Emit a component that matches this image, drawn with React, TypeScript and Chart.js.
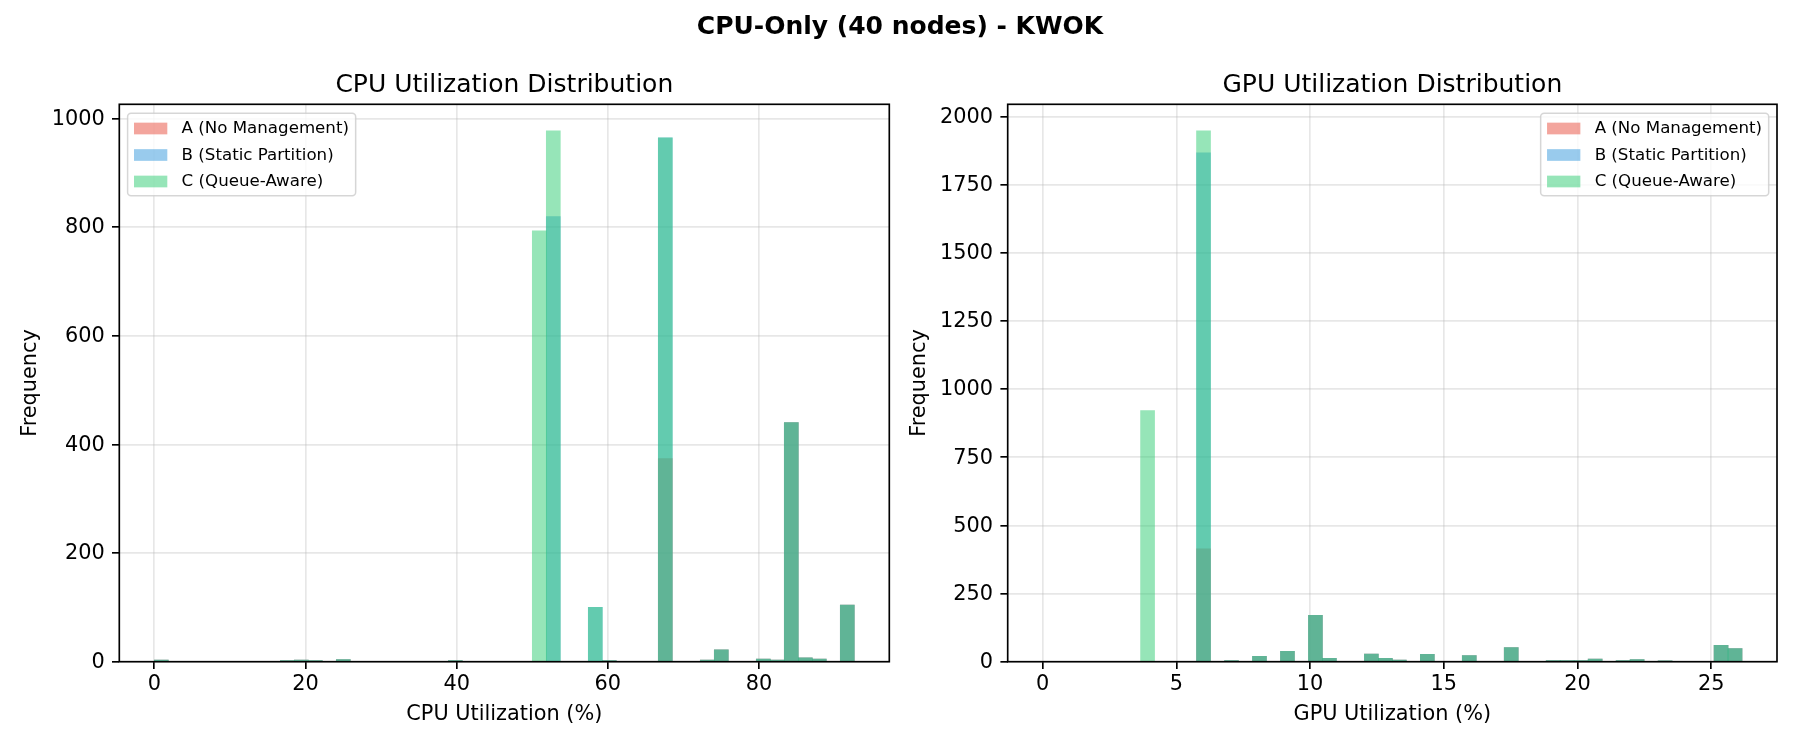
import React, { useEffect, useRef } from 'react';
import { Chart, registerables } from 'chart.js';

Chart.register(...registerables);

const FONT = "'DejaVu Sans', 'Liberation Sans', sans-serif";

// ---------- text ----------
const FIGURE_TITLE = 'CPU-Only (40 nodes) - KWOK';
const SERIES_LABELS = ['A (No Management)', 'B (Static Partition)', 'C (Queue-Aware)'];
const SERIES_COLORS = ['rgba(231, 76, 60, 0.5)', 'rgba(52, 152, 219, 0.5)', 'rgba(46, 204, 113, 0.5)'];
const Y_LABEL = 'Frequency';

// ---------- CPU panel (50 bins over CPU_BIN_RANGE) ----------
const CPU_TITLE = 'CPU Utilization Distribution';
const CPU_XLABEL = 'CPU Utilization (%)';
const CPU_BIN_RANGE = [0, 92.6];
const CPU_A = [
  3, 0, 0, 0, 0, 0, 0, 0, 0, 2,
  3, 2, 0, 4, 0, 0, 0, 0, 0, 0,
  0, 2, 0, 0, 0, 0, 0, 0, 0, 0,
  0, 0, 2, 0, 0, 0, 374, 0, 0, 3,
  22, 0, 0, 5, 3, 440, 7, 5, 0, 104,
];
const CPU_B = [
  3, 0, 0, 0, 0, 0, 0, 0, 0, 2,
  3, 2, 0, 4, 0, 0, 0, 0, 0, 0,
  0, 2, 0, 0, 0, 0, 0, 0, 819, 0,
  0, 100, 2, 0, 0, 0, 964, 0, 0, 3,
  22, 0, 0, 5, 3, 440, 7, 5, 0, 104,
];
const CPU_C = [
  3, 0, 0, 0, 0, 0, 0, 0, 0, 2,
  3, 2, 0, 4, 0, 0, 0, 0, 0, 0,
  0, 2, 0, 0, 0, 0, 0, 793, 977, 0,
  0, 100, 2, 0, 0, 0, 964, 0, 0, 3,
  22, 0, 0, 5, 3, 440, 7, 5, 0, 104,
];
const CPU_X_TICKS = [0, 20, 40, 60, 80];
const CPU_Y_TICKS = [0, 200, 400, 600, 800, 1000];

// ---------- GPU panel (50 bins over GPU_BIN_RANGE) ----------
const GPU_TITLE = 'GPU Utilization Distribution';
const GPU_XLABEL = 'GPU Utilization (%)';
const GPU_BIN_RANGE = [0, 26.15];
const GPU_A = [
  0, 0, 0, 0, 0, 0, 0, 0, 0, 0,
  0, 414, 0, 4, 0, 20, 0, 38, 0, 170,
  12, 0, 0, 28, 12, 6, 0, 27, 0, 0,
  22, 0, 0, 52, 0, 0, 4, 4, 4, 10,
  0, 4, 8, 0, 3, 0, 0, 0, 60, 48,
];
const GPU_B = [
  0, 0, 0, 0, 0, 0, 0, 0, 0, 0,
  0, 1866, 0, 4, 0, 20, 0, 38, 0, 170,
  12, 0, 0, 28, 12, 6, 0, 27, 0, 0,
  22, 0, 0, 52, 0, 0, 4, 4, 4, 10,
  0, 4, 8, 0, 3, 0, 0, 0, 60, 48,
];
const GPU_C = [
  0, 0, 0, 0, 0, 0, 0, 921, 0, 0,
  0, 1947, 0, 4, 0, 20, 0, 38, 0, 170,
  12, 0, 0, 28, 12, 6, 0, 27, 0, 0,
  22, 0, 0, 52, 0, 0, 4, 4, 4, 10,
  0, 4, 8, 0, 3, 0, 0, 0, 60, 48,
];
const GPU_X_TICKS = [0, 5, 10, 15, 20, 25];
const GPU_Y_TICKS = [0, 250, 500, 750, 1000, 1250, 1500, 1750, 2000];

type PanelSpec = {
  title: string;
  xLabel: string;
  binRange: number[];
  series: number[][];
  xTicks: number[];
  yTicks: number[];
  padLeft: number;
  padRight: number;
  yAxisWidth: number;
  yTitlePad: number;
  legendCorner: 'left' | 'right';
  suptitle: string | null;
};

const decorPlugin = {
  id: 'figDecor',
  afterDraw(chart: any, _args: any, opts: any) {
    const { ctx, chartArea: a } = chart;
    ctx.save();
    // spines
    ctx.strokeStyle = '#000';
    ctx.lineWidth = 1.67;
    ctx.strokeRect(a.left, a.top, a.right - a.left, a.bottom - a.top);
    // subplot title
    ctx.fillStyle = '#000';
    ctx.textAlign = 'center';
    ctx.textBaseline = 'alphabetic';
    ctx.font = `25px ${FONT}`;
    ctx.fillText(opts.title, (a.left + a.right) / 2, a.top - 12.3);
    if (opts.suptitle) {
      ctx.font = `bold 25px ${FONT}`;
      ctx.fillText(opts.suptitle, chart.width / 2, 34);
    }
    // legend
    ctx.font = `16.67px ${FONT}`;
    const textW = Math.max(...SERIES_LABELS.map((s) => ctx.measureText(s).width));
    const boxW = 54 + textW + 6.7;
    const boxH = 82.5;
    const bx = opts.legendCorner === 'left' ? a.left + 8.3 : a.right - 8.3 - boxW;
    const by = a.top + 9;
    ctx.beginPath();
    if (ctx.roundRect) ctx.roundRect(bx, by, boxW, boxH, 3.5);
    else ctx.rect(bx, by, boxW, boxH);
    ctx.fillStyle = 'rgba(255,255,255,0.8)';
    ctx.fill();
    ctx.strokeStyle = 'rgba(204,204,204,0.8)';
    ctx.lineWidth = 1.5;
    ctx.stroke();
    ctx.textAlign = 'left';
    ctx.textBaseline = 'middle';
    SERIES_LABELS.forEach((label, i) => {
      const cy = by + 15.2 + i * 26.5;
      ctx.fillStyle = SERIES_COLORS[i];
      ctx.fillRect(bx + 6.4, cy - 5.85, 33.3, 11.7);
      ctx.fillStyle = '#000';
      ctx.fillText(label, bx + 54, cy + 0.5);
    });
    ctx.restore();
  },
};

function buildChart(canvas: HTMLCanvasElement, spec: PanelSpec) {
  const [lo, hi] = spec.binRange;
  const n = spec.series[0].length;
  const w = (hi - lo) / n;
  const centers = spec.series[0].map((_, i) => lo + (i + 0.5) * w);
  const span = hi - lo;
  const yMax = Math.max(...spec.series.flat()) * 1.05;

  const datasets = spec.series.map((vals, k) => ({
    label: SERIES_LABELS[k],
    data: vals.map((v, i) => ({ x: centers[i], y: v })),
    backgroundColor: SERIES_COLORS[k],
    borderWidth: 0,
    barPercentage: 1,
    categoryPercentage: 1,
    grouped: false,
    order: spec.series.length - k,
  }));

  const tickFont = { family: FONT, size: 20.83 };
  const gridCommon = {
    color: 'rgba(176,176,176,0.3)',
    lineWidth: 1.67,
    drawTicks: true,
    tickLength: 7.3,
    tickWidth: 1.67,
    tickColor: '#000',
  };

  return new Chart(canvas, {
    type: 'bar',
    data: { datasets } as any,
    options: {
      responsive: false,
      maintainAspectRatio: false,
      animation: false,
      events: [],
      layout: { padding: { left: spec.padLeft, right: spec.padRight, top: 104.3, bottom: 0 } },
      plugins: {
        legend: { display: false },
        title: { display: false },
        tooltip: { enabled: false },
        figDecor: { title: spec.title, legendCorner: spec.legendCorner, suptitle: spec.suptitle },
      } as any,
      scales: {
        x: {
          type: 'linear',
          min: lo - 0.05 * span,
          max: hi + 0.05 * span,
          bounds: 'data',
          offset: false,
          z: 1,
          grid: { ...gridCommon, offset: false },
          border: { display: false },
          ticks: {
            color: '#000',
            font: tickFont,
            padding: 3,
            maxRotation: 0,
            autoSkip: false,
            callback: (v: any) => String(v),
          },
          afterBuildTicks: (s: any) => {
            s.ticks = spec.xTicks.map((v) => ({ value: v }));
          },
          afterFit: (s: any) => {
            s.height = 88.3;
          },
          title: {
            display: true,
            text: spec.xLabel,
            color: '#000',
            font: tickFont,
            padding: { top: 23.2, bottom: 23.2 },
          },
        },
        y: {
          type: 'linear',
          min: 0,
          max: yMax,
          bounds: 'data',
          z: 1,
          grid: gridCommon,
          border: { display: false },
          ticks: {
            color: '#000',
            font: tickFont,
            padding: 7.3,
            labelOffset: 1,
            autoSkip: false,
            callback: (v: any) => String(v),
          },
          afterBuildTicks: (s: any) => {
            s.ticks = spec.yTicks.map((v) => ({ value: v }));
          },
          afterFit: (s: any) => {
            s.width = spec.yAxisWidth;
          },
          title: {
            display: true,
            text: Y_LABEL,
            color: '#000',
            font: tickFont,
            padding: { top: spec.yTitlePad, bottom: spec.yTitlePad },
          },
        },
      } as any,
    },
    plugins: [decorPlugin as any],
  });
}

const LEFT_SPEC: PanelSpec = {
  title: CPU_TITLE,
  xLabel: CPU_XLABEL,
  binRange: CPU_BIN_RANGE,
  series: [CPU_A, CPU_B, CPU_C],
  xTicks: CPU_X_TICKS,
  yTicks: CPU_Y_TICKS,
  padLeft: 0,
  padRight: 1800 - 889.3,
  yAxisWidth: 119.3,
  yTitlePad: 18.5,
  legendCorner: 'left',
  suptitle: FIGURE_TITLE,
};

const RIGHT_SPEC: PanelSpec = {
  title: GPU_TITLE,
  xLabel: GPU_XLABEL,
  binRange: GPU_BIN_RANGE,
  series: [GPU_A, GPU_B, GPU_C],
  xTicks: GPU_X_TICKS,
  yTicks: GPU_Y_TICKS,
  padLeft: 900,
  padRight: 1800 - 1777,
  yAxisWidth: 107.7,
  yTitlePad: 6.8,
  legendCorner: 'right',
  suptitle: null,
};

export default function App() {
  const leftRef = useRef<HTMLCanvasElement>(null);
  const rightRef = useRef<HTMLCanvasElement>(null);

  useEffect(() => {
    const c1 = buildChart(leftRef.current as HTMLCanvasElement, LEFT_SPEC);
    const c2 = buildChart(rightRef.current as HTMLCanvasElement, RIGHT_SPEC);
    return () => {
      c1.destroy();
      c2.destroy();
    };
  }, []);

  const canvasStyle: React.CSSProperties = {
    position: 'absolute',
    left: 0,
    top: 0,
    width: 1800,
    height: 750,
  };

  return (
    <div style={{ position: 'absolute', left: 0, top: 0, width: 1800, height: 750, background: '#fff' }}>
      <canvas ref={leftRef} width={1800} height={750} style={canvasStyle} />
      <canvas ref={rightRef} width={1800} height={750} style={canvasStyle} />
    </div>
  );
}
